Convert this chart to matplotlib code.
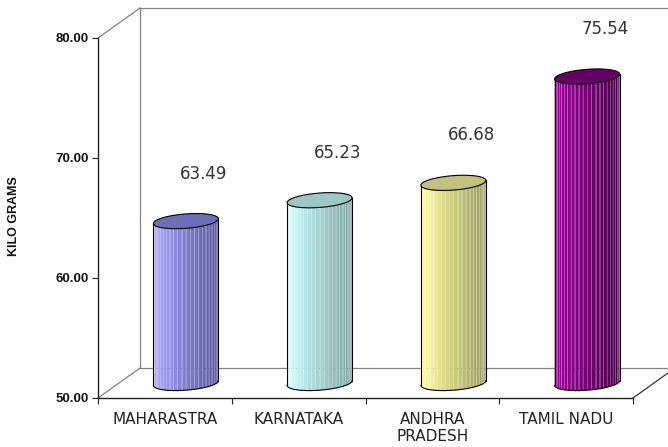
import matplotlib
matplotlib.use("Agg")
import matplotlib.pyplot as plt
import numpy as np
from matplotlib.patches import Polygon
from matplotlib.colors import to_rgb

# Per-capita consumption by state (kilo grams)
states = ["MAHARASTRA", "KARNATAKA", "ANDHRA\nPRADESH", "TAMIL NADU"]
kilograms = [63.49, 65.23, 66.68, 75.54]
y_ticks = [50, 60, 70, 80]

# Cylinder shading: lit side, shadow side, cap
light_colors = ["#a6a6ff", "#ceffff", "#ffffa0", "#a000a0"]
dark_colors = ["#55559a", "#7ea4a4", "#9a9a60", "#440044"]
cap_colors = ["#6e6eb8", "#9cc8c2", "#c2c27e", "#650065"]

# 3D look, all in data units
DEPTH_X = 0.314
DEPTH_Y = 2.5
RX = 0.243
RY = 0.6
TILT = 0.2
Y_MIN, Y_MAX = 50, 80


def ring(cx, cy, theta):
    return cx + RX * np.cos(theta), cy + RY * np.sin(theta) + TILT * np.cos(theta)


def mix(c1, c2, f):
    a, b = np.array(to_rgb(c1)), np.array(to_rgb(c2))
    return tuple(a + (b - a) * f)


def draw_cylinder(ax, cx, y0, y1, light, dark, cap, n=24):
    thetas = np.linspace(np.pi, 2 * np.pi, n + 1)
    for k in range(n):
        t1, t2 = thetas[k], thetas[k + 1]
        xb1, yb1 = ring(cx, y0, t1)
        xb2, yb2 = ring(cx, y0, t2)
        xt1, yt1 = ring(cx, y1, t1)
        xt2, yt2 = ring(cx, y1, t2)
        frac = ((xb1 + xb2) / 2 - (cx - RX)) / (2 * RX)
        col = mix(light, dark, frac)
        ax.add_patch(Polygon([(xb1, yb1), (xb2, yb2), (xt2, yt2), (xt1, yt1)],
                             closed=True, facecolor=col, edgecolor="none",
                             zorder=3, clip_on=False))
        # thin light stripe on each strip edge
        ax.plot([xb1, xt1], [yb1, yt1], color=mix(col, "white", 0.45), lw=0.4,
                zorder=3.5, clip_on=False)
    # outline of the body
    bx, by = ring(cx, y0, thetas)
    ax.plot(bx, by, color="black", lw=0.8, zorder=4, clip_on=False)
    ax.plot([cx - RX, cx - RX], [y0 - TILT, y1 - TILT], color="black", lw=0.8,
            zorder=4, clip_on=False)
    ax.plot([cx + RX, cx + RX], [y0 + TILT, y1 + TILT], color="black", lw=0.8,
            zorder=4, clip_on=False)
    # top cap
    full = np.linspace(0, 2 * np.pi, 100)
    tx, ty = ring(cx, y1, full)
    ax.add_patch(Polygon(np.column_stack([tx, ty]), closed=True, facecolor=cap,
                         edgecolor="black", lw=0.8, zorder=5, clip_on=False))


fig = plt.figure(figsize=(6.68, 4.47), dpi=100)
ax = fig.add_axes([98 / 668, 49 / 447, 535 / 668, 360 / 447])
ax.set_xlim(-0.5, len(states) - 0.5)
ax.set_ylim(Y_MIN, Y_MAX)

# back walls and floor
left, right = -0.5, len(states) - 0.5
wall = dict(color="#808080", lw=0.9, zorder=1, clip_on=False)
ax.plot([left, left + DEPTH_X], [Y_MAX, Y_MAX + DEPTH_Y], **wall)
ax.plot([left, left + DEPTH_X], [Y_MIN, Y_MIN + DEPTH_Y], **wall)
ax.plot([left + DEPTH_X, left + DEPTH_X], [Y_MIN + DEPTH_Y, Y_MAX + DEPTH_Y], **wall)
ax.plot([left + DEPTH_X, right + DEPTH_X], [Y_MAX + DEPTH_Y, Y_MAX + DEPTH_Y], **wall)
ax.plot([left + DEPTH_X, right + DEPTH_X], [Y_MIN + DEPTH_Y, Y_MIN + DEPTH_Y], **wall)
ax.plot([right, right + DEPTH_X], [Y_MIN, Y_MIN + DEPTH_Y], color="#333333",
        lw=0.9, zorder=1, clip_on=False)

for i, v in enumerate(kilograms):
    cx = i + DEPTH_X / 2
    draw_cylinder(ax, cx, Y_MIN + DEPTH_Y / 2, v + DEPTH_Y / 2,
                  light_colors[i], dark_colors[i], cap_colors[i])
    ax.text(i + 0.29, v + 5.2, f"{v:.2f}", ha="center", va="center",
            fontsize=12, color="#333333", zorder=6)

for side in ["top", "right"]:
    ax.spines[side].set_visible(False)
for side in ["left", "bottom"]:
    ax.spines[side].set_color("#222222")
    ax.spines[side].set_linewidth(1.0)

ax.set_yticks(y_ticks)
ax.set_yticklabels([f"{t:.2f}" for t in y_ticks], fontsize=9.5,
                   fontweight="bold", family="Liberation Sans", color="#111111")
ax.tick_params(axis="y", length=4, width=0.8, pad=2.5, color="#222222")

ax.set_xticks(range(len(states)))
ax.set_xticklabels(states, fontsize=11, color="#222222")
ax.tick_params(axis="x", which="major", length=0, pad=10)
ax.set_xticks(np.arange(len(states) + 1) - 0.5, minor=True)
ax.tick_params(axis="x", which="minor", length=4, width=0.8, color="#222222")

fig.text(14 / 668, 1 - 216 / 447, "KILO GRAMS", rotation=90, ha="center",
         va="center", fontsize=9, fontweight="bold", family="Liberation Sans",
         color="#111111")

fig.savefig("out.png", dpi=100)
